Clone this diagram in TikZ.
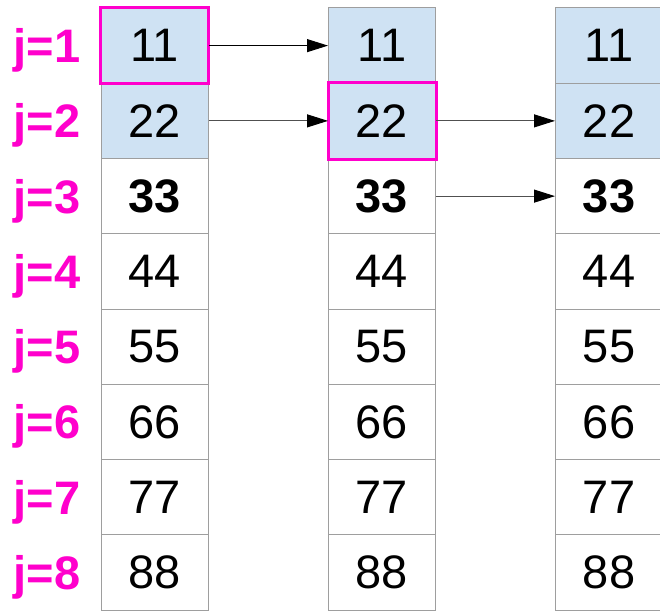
\documentclass[tikz,border=0pt]{standalone}
\usepackage{fontspec}
\setmainfont{Liberation Sans}
\usetikzlibrary{arrows.meta}
\definecolor{cellfill}{HTML}{CFE2F3}
\definecolor{cellborder}{HTML}{9E9E9E}
\definecolor{hipink}{HTML}{FF00CC}
\definecolor{arrowgray}{HTML}{505050}
\tikzset{
  cell/.style={draw=cellborder, line width=1pt, minimum width=107pt, minimum height=75.25pt,
    inner sep=0pt, anchor=center, font=\fontsize{47}{50}\selectfont},
  done/.style={fill=cellfill},
  jlabel/.style={text=hipink, font=\fontsize{47}{50}\selectfont\bfseries, anchor=center, inner sep=0pt, text depth=0pt},
  pinkbox/.style={draw=hipink, line width=3pt},
  movearrow/.style={line width=1pt, -{Triangle[length=21pt,width=13pt,color=black]}},
}
\begin{document}
\begin{tikzpicture}[x=1pt,y=-1pt]
\clip (0,0) rectangle (660,610);
\fill[white] (0,0) rectangle (660,610);
\foreach \c/\cx in {1/154.5, 2/382, 3/609} {
  \foreach \r/\v in {1/11,2/22,3/33,4/44,5/55,6/66,7/77,8/88} {
    \pgfmathsetmacro{\cy}{8+75.25*(\r-0.5)}
    \ifnum\r<3
      \node[cell,done] (c\c r\r) at (\cx,\cy) {\v};
    \else\ifnum\r=3
      \node[cell] (c\c r\r) at (\cx,\cy) {\textbf{\v}};
    \else
      \node[cell] (c\c r\r) at (\cx,\cy) {\v};
    \fi\fi
  }
}
\foreach \r in {1,...,8} {
  \pgfmathsetmacro{\cy}{8+75.25*(\r-0.5)}
  \node[jlabel] (l\r) at (47,\cy) {j=\r};
}
\draw[pinkbox] (c1r1.north west) rectangle (c1r1.south east);
\draw[pinkbox] (c2r2.north west) rectangle (c2r2.south east);
\draw[movearrow, draw=black] (c1r1.east) -- (c2r1.west);
\draw[movearrow, draw=arrowgray] (c1r2.east) -- (c2r2.west);
\draw[movearrow, draw=arrowgray] (c2r2.east) -- (c3r2.west);
\draw[movearrow, draw=arrowgray] (c2r3.east) -- (c3r3.west);
\end{tikzpicture}
\end{document}
